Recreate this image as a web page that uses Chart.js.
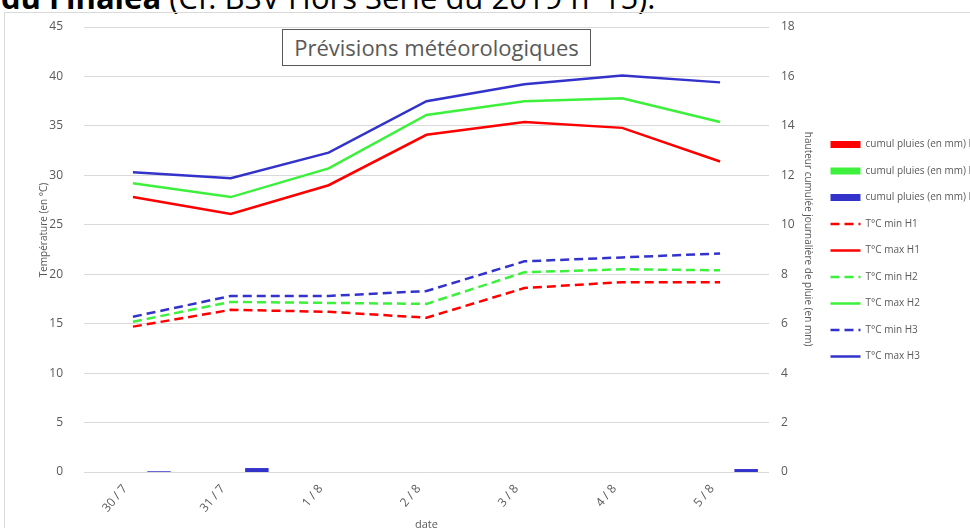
<!DOCTYPE html>
<html><head><meta charset="utf-8">
<script src="https://cdn.jsdelivr.net/npm/chart.js@4/dist/chart.umd.min.js"></script>
<style>
html,body{margin:0;padding:0;width:970px;height:528px;overflow:hidden;background:#fff;position:relative;}
#heading{position:absolute;left:1px;top:-21px;font-family:"Open Sans",sans-serif;font-size:31px;line-height:36px;color:#000;white-space:nowrap;}
#frame{position:absolute;left:4px;top:12px;width:1000px;height:600px;border-left:1px solid #d9d9d9;border-top:1px solid #d9d9d9;}
#wrap{position:absolute;left:4px;top:12px;width:970px;height:520px;}
#ctitle{position:absolute;left:282px;top:29px;width:307px;height:35px;border:1px solid #595959;background:#fff;font-family:"Open Sans",sans-serif;font-size:22px;line-height:35px;color:#595959;text-align:center;white-space:nowrap;}
</style></head>
<body>
<div id="heading"><b>du Finalea</b> (Cf. BSV Hors Série du 2019 n°15).</div>
<div id="frame"></div>
<div id="wrap"><canvas id="c" width="970" height="520"></canvas></div>
<div id="ctitle">Prévisions météorologiques</div>
<script>
const dates = ["30 / 7","31 / 7","1 / 8","2 / 8","3 / 8","4 / 8","5 / 8"];
const rainH1 = [0,0,0,0,0,0,0];
const rainH2 = [0,0,0,0,0,0,0];
const rainH3 = [0.03,0.16,0,0,0,0,0.12];
const minH1 = [14.7,16.4,16.2,15.6,18.6,19.2,19.2];
const maxH1 = [27.8,26.1,29.0,34.1,35.4,34.8,31.4];
const minH2 = [15.2,17.2,17.1,17.0,20.2,20.5,20.4];
const maxH2 = [29.2,27.8,30.7,36.1,37.5,37.8,35.4];
const minH3 = [15.7,17.8,17.8,18.3,21.3,21.7,22.1];
const maxH3 = [30.3,29.7,32.3,37.5,39.2,40.1,39.4];
const tempTicks = [0,5,10,15,20,25,30,35,40,45];
const rainTicks = [0,2,4,6,8,10,12,14,16,18];

const RED='#ff0000', GREEN='#3cf03c', BLUE='#3333cc', TXT='#595959', FONT='"Open Sans", sans-serif';
const DASH=[9,5];
function bar(label,data,color){return {type:'bar',label,data,backgroundColor:color,borderWidth:0,yAxisID:'y1',order:5};}
function line(label,data,color,dash){return {type:'line',label,data,borderColor:color,backgroundColor:color,borderWidth:2.5,borderDash:dash||[],pointRadius:0,tension:0,yAxisID:'y',order:1};}
function noPad(s){s.paddingTop=0;s.paddingBottom=0;s.paddingLeft=0;s.paddingRight=0;}

new Chart(document.getElementById('c'),{
  data:{labels:dates,datasets:[
    bar('cumul pluies (en mm) H1',rainH1,RED),
    bar('cumul pluies (en mm) H2',rainH2,GREEN),
    bar('cumul pluies (en mm) H3',rainH3,BLUE),
    line('T°C min H1',minH1,RED,DASH),
    line('T°C max H1',maxH1,RED),
    line('T°C min H2',minH2,GREEN,DASH),
    line('T°C max H2',maxH2,GREEN),
    line('T°C min H3',minH3,BLUE,DASH),
    line('T°C max H3',maxH3,BLUE)
  ]},
  options:{
    responsive:false,animation:false,
    layout:{padding:{top:15,left:0,right:0,bottom:0}},
    plugins:{
      tooltip:{enabled:false},
      legend:{position:'right',align:'start',maxWidth:160,
        title:{display:true,text:' ',font:{size:10,family:FONT},padding:{top:84,bottom:0}},
        labels:{usePointStyle:true,pointStyleWidth:30,boxWidth:30,boxHeight:7,padding:16.5,color:TXT,font:{size:10,family:FONT},
          generateLabels:(chart)=>chart.data.datasets.map((ds,i)=>({
            text:ds.label,
            fillStyle:ds.type==='bar'?ds.backgroundColor:'rgba(0,0,0,0)',
            strokeStyle:ds.type==='bar'?ds.backgroundColor:ds.borderColor,
            lineWidth:ds.type==='bar'?0:2.5,
            lineDash:ds.borderDash||[],
            pointStyle:ds.type==='bar'?'rect':'line',
            fontColor:TXT,hidden:false,datasetIndex:i
          }))
        }
      }
    },
    scales:{
      x:{position:'bottom',grid:{display:false,drawTicks:false},border:{display:false},
        ticks:{color:TXT,font:{size:12,family:FONT},maxRotation:50,minRotation:50,padding:10,labelOffset:-8,autoSkip:false},
        title:{display:true,text:'date',color:TXT,font:{size:11,family:FONT},padding:{top:0,bottom:1}},
        afterFit:(s)=>{s.height=60;noPad(s);}
      },
      y:{position:'left',min:0,max:45,
        afterBuildTicks:(s)=>{s.ticks=tempTicks.map(v=>({value:v}));},
        grid:{color:'#d9d9d9',lineWidth:1,drawTicks:false},border:{display:false},
        ticks:{color:TXT,font:{size:12,family:FONT},padding:21},
        title:{display:true,text:'               Température (en °C)',color:TXT,font:{size:10,family:FONT},padding:{top:34,bottom:0}},
        afterFit:(s)=>{s.width=80;noPad(s);}
      },
      y1:{position:'right',min:0,max:18,
        afterBuildTicks:(s)=>{s.ticks=rainTicks.map(v=>({value:v}));},
        grid:{display:false,drawTicks:false},border:{display:false},
        ticks:{color:TXT,font:{size:12,family:FONT},padding:12},
        title:{display:true,text:'hauteur cumulée journalière de pluie (en mm)        ',color:TXT,font:{size:10,family:FONT},padding:{top:0,bottom:0}},
        afterFit:(s)=>{s.width=45;noPad(s);}
      }
    }
  }
});
</script>
</body></html>
